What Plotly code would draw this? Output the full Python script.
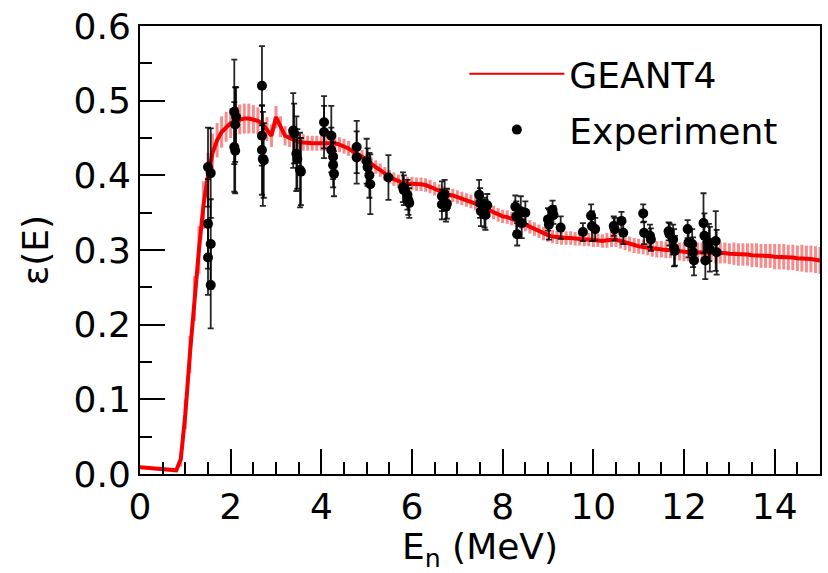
import plotly.graph_objects as go

# ---------------- GEANT4 simulation (0.1 MeV steps) ----------------
geant_E = [round(i * 0.1, 1) for i in range(151)]
geant_eff = [
    0.009, 0.0085, 0.008, 0.0075, 0.007, 0.0065, 0.006, 0.0055, 0.005, 0.020,   # 0.0-0.9
    0.080, 0.160, 0.235, 0.300, 0.360, 0.400, 0.430, 0.447, 0.458, 0.465,       # 1.0-1.9
    0.470, 0.473, 0.475, 0.476, 0.476, 0.475, 0.473, 0.469, 0.462, 0.453,       # 2.0-2.9
    0.478, 0.465, 0.453, 0.450, 0.447, 0.445, 0.444, 0.443, 0.443, 0.443,       # 3.0-3.9
    0.443, 0.443, 0.443, 0.443, 0.441, 0.439, 0.436, 0.432, 0.429, 0.425,       # 4.0-4.9
    0.420, 0.415, 0.411, 0.407, 0.402, 0.398, 0.395, 0.392, 0.390, 0.389,       # 5.0-5.9
    0.389, 0.388, 0.388, 0.387, 0.385, 0.382, 0.379, 0.376, 0.374, 0.373,       # 6.0-6.9
    0.371, 0.369, 0.367, 0.365, 0.362, 0.359, 0.356, 0.353, 0.350, 0.347,       # 7.0-7.9
    0.345, 0.344, 0.342, 0.340, 0.337, 0.334, 0.331, 0.328, 0.325, 0.322,       # 8.0-8.9
    0.320, 0.318, 0.317, 0.316, 0.316, 0.316, 0.315, 0.315, 0.314, 0.314,       # 9.0-9.9
    0.313, 0.313, 0.312, 0.313, 0.314, 0.314, 0.312, 0.310, 0.308, 0.306,       # 10.0-10.9
    0.305, 0.304, 0.303, 0.302, 0.301, 0.301, 0.300, 0.300, 0.299, 0.298,       # 11.0-11.9
    0.297, 0.297, 0.297, 0.297, 0.297, 0.297, 0.297, 0.296, 0.296, 0.296,       # 12.0-12.9
    0.295, 0.295, 0.294, 0.294, 0.294, 0.293, 0.293, 0.292, 0.292, 0.292,       # 13.0-13.9
    0.291, 0.291, 0.291, 0.290, 0.290, 0.289, 0.289, 0.288, 0.288, 0.287,       # 14.0-14.9
    0.286,                                                                      # 15.0
]
geant_err = [
    0, 0, 0, 0, 0, 0, 0, 0, 0, 0.010,
    0.020, 0.025, 0.030, 0.032, 0.032, 0.030, 0.026, 0.023, 0.021, 0.020,
    0.020, 0.020, 0.020, 0.020, 0.020, 0.019, 0.018, 0.017, 0.016, 0.015,
    0.015, 0.014, 0.013, 0.012, 0.012, 0.011, 0.011, 0.010, 0.010, 0.010,
    0.010, 0.010, 0.010, 0.010, 0.010, 0.010, 0.010, 0.009, 0.009, 0.009,
    0.009, 0.009, 0.009, 0.009, 0.009, 0.009, 0.009, 0.009, 0.009, 0.009,
    0.009, 0.009, 0.009, 0.009, 0.009, 0.009, 0.009, 0.009, 0.009, 0.009,
    0.009, 0.009, 0.009, 0.009, 0.009, 0.009, 0.009, 0.009, 0.009, 0.009,
    0.009, 0.009, 0.009, 0.009, 0.009, 0.009, 0.009, 0.009, 0.009, 0.009,
    0.009, 0.009, 0.009, 0.009, 0.009, 0.009, 0.009, 0.009, 0.009, 0.009,
    0.009, 0.009, 0.009, 0.010, 0.010, 0.010, 0.010, 0.010, 0.010, 0.010,
    0.010, 0.010, 0.010, 0.011, 0.011, 0.011, 0.011, 0.011, 0.012, 0.012,
    0.012, 0.012, 0.012, 0.013, 0.013, 0.013, 0.013, 0.014, 0.014, 0.014,
    0.014, 0.015, 0.015, 0.015, 0.015, 0.016, 0.016, 0.016, 0.016, 0.016,
    0.017, 0.017, 0.017, 0.017, 0.017, 0.017, 0.018, 0.018, 0.018, 0.018,
    0.018,
]

# ---------------- Experiment ----------------
exp_E = [
    1.50, 1.50, 1.50, 1.56, 1.56, 1.56,
    2.08, 2.08, 2.10, 2.10, 2.12,
    2.69, 2.69, 2.69, 2.71, 2.73,
    3.38, 3.40, 3.45, 3.47, 3.53, 3.55,
    4.06, 4.06, 4.22, 4.22, 4.26, 4.26, 4.28,
    4.78, 4.78, 5.00, 5.02, 5.06, 5.08,
    5.48, 5.80, 5.82, 5.90, 5.92, 5.94,
    6.66, 6.66, 6.72, 6.75, 6.77,
    7.48, 7.50, 7.52, 7.60, 7.62, 7.66,
    8.28, 8.30, 8.32, 8.40, 8.42, 8.50,
    9.00, 9.02, 9.10, 9.12, 9.28,
    9.77, 9.95, 9.97, 10.04,
    10.45, 10.47, 10.62, 10.66,
    11.10, 11.12, 11.25, 11.27,
    11.66, 11.68, 11.76, 11.78, 11.80,
    12.08, 12.10, 12.18, 12.20, 12.22,
    12.43, 12.45, 12.47, 12.55, 12.57, 12.70, 12.72,
]
exp_eff = [
    0.411, 0.335, 0.290, 0.403, 0.308, 0.253,
    0.485, 0.438, 0.468, 0.433, 0.478,
    0.520, 0.453, 0.434, 0.422, 0.420,
    0.460, 0.456, 0.429, 0.422, 0.407, 0.405,
    0.471, 0.458, 0.453, 0.434, 0.425, 0.414, 0.402,
    0.438, 0.424, 0.419, 0.411, 0.400, 0.388,
    0.397, 0.384, 0.380, 0.374, 0.367, 0.363,
    0.372, 0.361, 0.374, 0.358, 0.362,
    0.374, 0.363, 0.352, 0.350, 0.347, 0.360,
    0.358, 0.345, 0.321, 0.352, 0.336, 0.350,
    0.341, 0.334, 0.354, 0.347, 0.330,
    0.324, 0.346, 0.332, 0.328,
    0.332, 0.328, 0.339, 0.323,
    0.349, 0.323, 0.319, 0.314,
    0.325, 0.321, 0.314, 0.303, 0.299,
    0.328, 0.310, 0.308, 0.297, 0.286,
    0.336, 0.319, 0.286, 0.310, 0.301, 0.312, 0.297,
]
exp_err = [
    0.053, 0.060, 0.050, 0.060, 0.060, 0.058,
    0.070, 0.060, 0.050, 0.057, 0.040,
    0.053, 0.040, 0.060, 0.063, 0.050,
    0.050, 0.040, 0.050, 0.040, 0.050, 0.045,
    0.035, 0.035, 0.040, 0.030, 0.030, 0.030, 0.030,
    0.035, 0.035, 0.030, 0.025, 0.030, 0.040,
    0.030, 0.020, 0.020, 0.020, 0.020, 0.020,
    0.020, 0.020, 0.020, 0.020, 0.020,
    0.020, 0.020, 0.020, 0.020, 0.020, 0.015,
    0.015, 0.020, 0.015, 0.020, 0.020, 0.015,
    0.015, 0.020, 0.012, 0.012, 0.015,
    0.012, 0.015, 0.020, 0.015,
    0.013, 0.015, 0.012, 0.015,
    0.012, 0.015, 0.015, 0.015,
    0.012, 0.015, 0.020, 0.025, 0.020,
    0.012, 0.020, 0.020, 0.020, 0.020,
    0.040, 0.030, 0.025, 0.025, 0.030, 0.040, 0.030,
]

x_ticks = [0, 2, 4, 6, 8, 10, 12, 14]
y_ticks = [0.0, 0.1, 0.2, 0.3, 0.4, 0.5, 0.6]

FONT = "DejaVu Sans"

fig = go.Figure()
fig.add_trace(go.Scatter(
    x=geant_E, y=geant_eff, mode="lines", name="GEANT4",
    line=dict(color="rgb(245,0,0)", width=4),
    error_y=dict(type="data", array=geant_err, visible=True,
                 color="rgba(235,0,0,0.45)", thickness=3, width=0),
    showlegend=False,
))
# legend-only entry (thin line, like the reference key)
fig.add_trace(go.Scatter(
    x=[None], y=[None], mode="lines", name="GEANT4",
    line=dict(color="rgb(230,0,0)", width=2),
    legendgroup="g",
))
fig.add_trace(go.Scatter(
    x=exp_E, y=exp_eff, mode="markers", name="Experiment",
    marker=dict(color="black", size=10),
    error_y=dict(type="data", array=exp_err, visible=True,
                 color="rgba(0,0,0,0.85)", thickness=1.8, width=3),
    legendgroup="e",
))

axis_common = dict(
    showline=True, linecolor="black", linewidth=2, mirror=True,
    ticks="inside", tickcolor="black", tickwidth=2, ticklen=25,
    showgrid=False, zeroline=False, ticklabeloverflow="allow",
    tickfont=dict(family=FONT, size=36, color="black"),
)

fig.update_xaxes(
    range=[0, 15], tickvals=x_ticks, ticktext=[str(v) for v in x_ticks],
    minor=dict(ticks="inside", ticklen=12, tickwidth=2, tickcolor="black", dtick=0.5, showgrid=False),
    title=dict(text="E<sub>n</sub> (MeV)", font=dict(family=FONT, size=36, color="black"), standoff=4),
    **axis_common,
)
fig.update_yaxes(
    range=[0, 0.6], tickvals=y_ticks, ticktext=[f"{v:.1f}" for v in y_ticks],
    minor=dict(ticks="inside", ticklen=12, tickwidth=2, tickcolor="black", dtick=0.05, showgrid=False),
    title=dict(text="ε(E)", font=dict(family=FONT, size=36, color="black"), standoff=14),
    **axis_common,
)

fig.update_layout(
    width=828, height=573,
    margin=dict(l=140, r=6, t=20, b=99),
    paper_bgcolor="white", plot_bgcolor="white",
    font=dict(family=FONT, size=36, color="black"),
    legend=dict(x=0.477, y=0.96, xanchor="left", yanchor="top",
                bgcolor="rgba(0,0,0,0)", itemwidth=95, tracegroupgap=6,
                font=dict(family=FONT, size=36, color="black")),
    showlegend=True,
)

fig.write_html("out.html")
